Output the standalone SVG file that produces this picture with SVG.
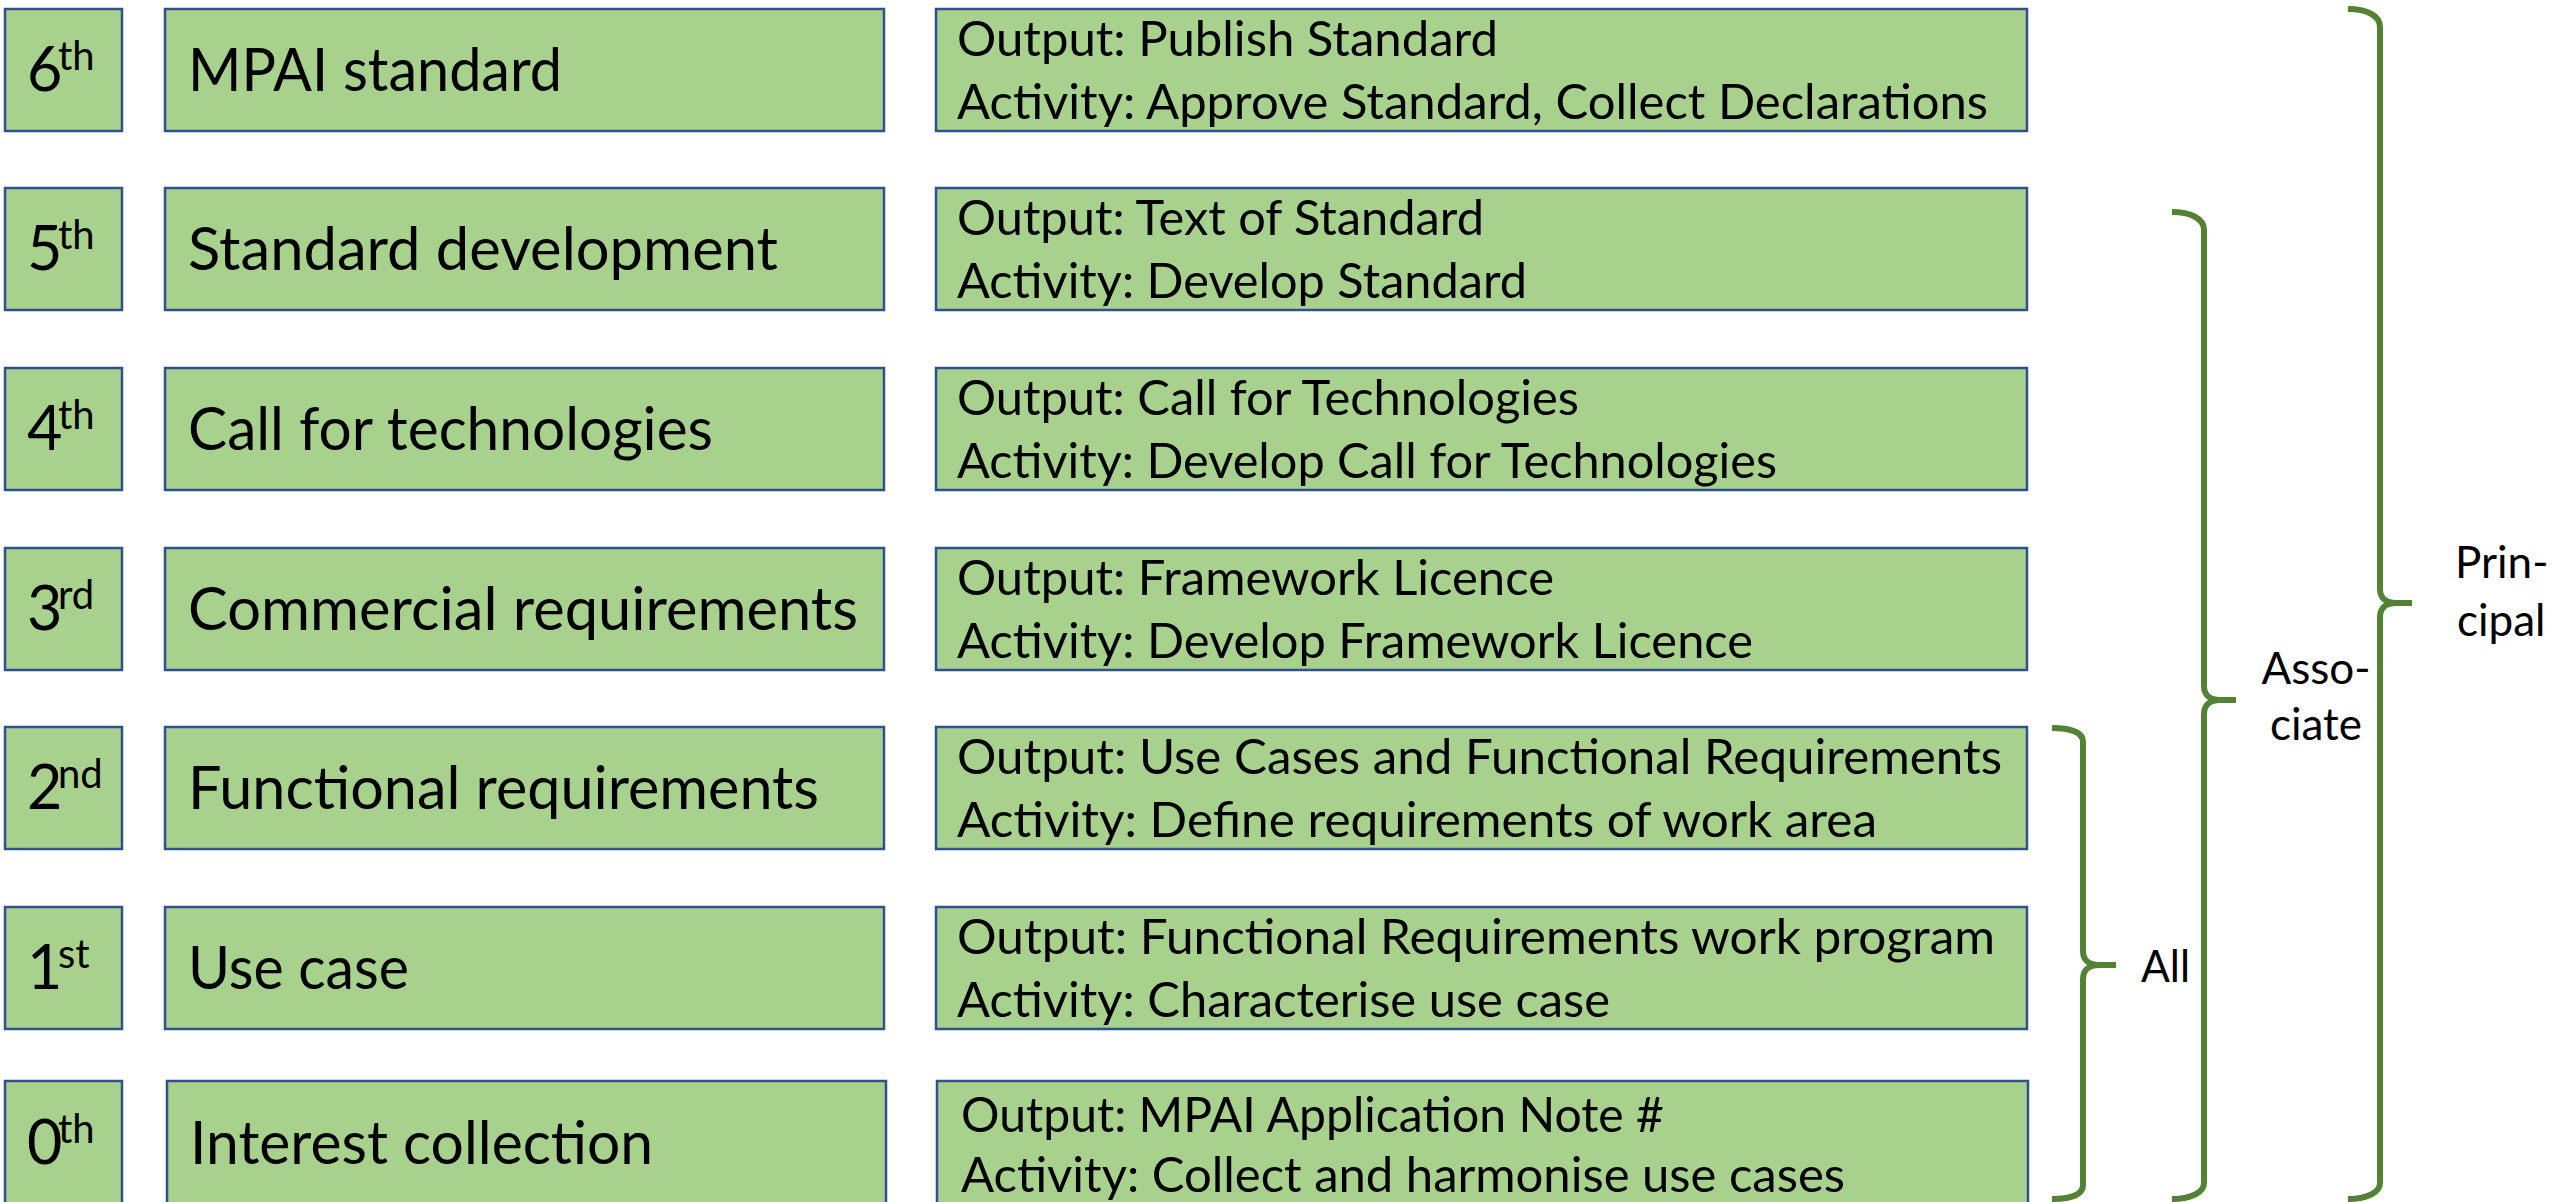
<svg xmlns="http://www.w3.org/2000/svg" width="2552" height="1202" viewBox="0 0 2552 1202">
<style>
.bx{fill:#A9D18E;stroke:#2F528F;stroke-width:2.5}
.t{font-family:Lato,"Open Sans","Liberation Sans",sans-serif;fill:#000}
.num{font-size:61px}
.sup{font-size:40px}
.main{font-size:60px}
.out{font-size:49px}
.lbl{font-size:44px}
.br{fill:none;stroke:#548235;stroke-width:6;stroke-linecap:butt}
</style>
<rect width="2552" height="1202" fill="#fff"/>
<g id="row6">
<rect class="bx" x="5" y="9" width="117" height="122"/>
<text class="t num" x="27" y="91">6</text><text class="t sup" x="58" y="70">th</text>
<rect class="bx" x="165" y="9" width="719" height="122"/>
<text class="t main" x="188" y="91" textLength="374" lengthAdjust="spacingAndGlyphs">MPAI standard</text>
<rect class="bx" x="936" y="9" width="1091" height="122"/>
<text class="t out" x="957" y="56" textLength="541" lengthAdjust="spacingAndGlyphs">Output: Publish Standard</text>
<text class="t out" x="957" y="119" textLength="1031" lengthAdjust="spacingAndGlyphs">Activity: Approve Standard, Collect Declarations</text>
</g>
<g id="row5">
<rect class="bx" x="5" y="188" width="117" height="122"/>
<text class="t num" x="27" y="270">5</text><text class="t sup" x="58" y="249">th</text>
<rect class="bx" x="165" y="188" width="719" height="122"/>
<text class="t main" x="188" y="270" textLength="590" lengthAdjust="spacingAndGlyphs">Standard development</text>
<rect class="bx" x="936" y="188" width="1091" height="122"/>
<text class="t out" x="957" y="235" textLength="527" lengthAdjust="spacingAndGlyphs">Output: Text of Standard</text>
<text class="t out" x="957" y="298" textLength="570" lengthAdjust="spacingAndGlyphs">Activity: Develop Standard</text>
</g>
<g id="row4">
<rect class="bx" x="5" y="368" width="117" height="122"/>
<text class="t num" x="27" y="450">4</text><text class="t sup" x="58" y="429">th</text>
<rect class="bx" x="165" y="368" width="719" height="122"/>
<text class="t main" x="188" y="450" textLength="525" lengthAdjust="spacingAndGlyphs">Call for technologies</text>
<rect class="bx" x="936" y="368" width="1091" height="122"/>
<text class="t out" x="957" y="415" textLength="622" lengthAdjust="spacingAndGlyphs">Output: Call for Technologies</text>
<text class="t out" x="957" y="478" textLength="820" lengthAdjust="spacingAndGlyphs">Activity: Develop Call for Technologies</text>
</g>
<g id="row3">
<rect class="bx" x="5" y="548" width="117" height="122"/>
<text class="t num" x="27" y="630">3</text><text class="t sup" x="58" y="609">rd</text>
<rect class="bx" x="165" y="548" width="719" height="122"/>
<text class="t main" x="188" y="630" textLength="670" lengthAdjust="spacingAndGlyphs">Commercial requirements</text>
<rect class="bx" x="936" y="548" width="1091" height="122"/>
<text class="t out" x="957" y="595" textLength="597" lengthAdjust="spacingAndGlyphs">Output: Framework Licence</text>
<text class="t out" x="957" y="658" textLength="796" lengthAdjust="spacingAndGlyphs">Activity: Develop Framework Licence</text>
</g>
<g id="row2">
<rect class="bx" x="5" y="727" width="117" height="122"/>
<text class="t num" x="27" y="809">2</text><text class="t sup" x="58" y="788">nd</text>
<rect class="bx" x="165" y="727" width="719" height="122"/>
<text class="t main" x="188" y="809" textLength="631" lengthAdjust="spacingAndGlyphs">Functional requirements</text>
<rect class="bx" x="936" y="727" width="1091" height="122"/>
<text class="t out" x="957" y="774" textLength="1045" lengthAdjust="spacingAndGlyphs">Output: Use Cases and Functional Requirements</text>
<text class="t out" x="957" y="837" textLength="920" lengthAdjust="spacingAndGlyphs">Activity: Define requirements of work area</text>
</g>
<g id="row1">
<rect class="bx" x="5" y="907" width="117" height="122"/>
<text class="t num" x="27" y="989">1</text><text class="t sup" x="58" y="968">st</text>
<rect class="bx" x="165" y="907" width="719" height="122"/>
<text class="t main" x="188" y="989" textLength="221" lengthAdjust="spacingAndGlyphs">Use case</text>
<rect class="bx" x="936" y="907" width="1091" height="122"/>
<text class="t out" x="957" y="954" textLength="1038" lengthAdjust="spacingAndGlyphs">Output: Functional Requirements work program</text>
<text class="t out" x="957" y="1017" textLength="653" lengthAdjust="spacingAndGlyphs">Activity: Characterise use case</text>
</g>
<g id="row0">
<rect class="bx" x="5" y="1081" width="117" height="124"/>
<text class="t num" x="27" y="1164">0</text><text class="t sup" x="58" y="1143">th</text>
<rect class="bx" x="167" y="1081" width="719" height="124"/>
<text class="t main" x="190" y="1164" textLength="463" lengthAdjust="spacingAndGlyphs">Interest collection</text>
<rect class="bx" x="937" y="1081" width="1091" height="124"/>
<text class="t out" x="961" y="1132" textLength="703" lengthAdjust="spacingAndGlyphs">Output: MPAI Application Note #</text>
<text class="t out" x="961" y="1192" textLength="884" lengthAdjust="spacingAndGlyphs">Activity: Collect and harmonise use cases</text>
</g>
<g id="connectors">
<path class="br" d="M2052 728 C2069.6 728 2083 732 2083 742 L2083 951 C2083 959 2088 965 2099 965 L2116 965 M2116 965 L2099 965 C2088 965 2083 971 2083 979 L2083 1185 C2083 1195 2069.6 1199 2052 1199"/>
<path class="br" d="M2172 212 C2189.6 212 2204 218 2204 230 L2204 686 C2204 694 2209 700 2220 700 L2236 700 M2236 700 L2220 700 C2209 700 2204 706 2204 714 L2204 1183 C2204 1193 2189.6 1199 2172 1199"/>
<path class="br" d="M2348 9 C2365.6 9 2380 15 2380 27 L2380 589 C2380 597 2385 603 2396 603 L2412 603 M2412 603 L2396 603 C2385 603 2380 609 2380 617 L2380 1183 C2380 1193 2365.6 1199 2348 1199"/>
</g>
<g id="labels">
<text class="t lbl" x="2141" y="982" textLength="49" lengthAdjust="spacingAndGlyphs">All</text>
<text class="t lbl" x="2316" y="684" text-anchor="middle">Asso-</text>
<text class="t lbl" x="2316" y="740" text-anchor="middle">ciate</text>
<text class="t lbl" x="2455" y="578">Prin-</text>
<text class="t lbl" x="2457" y="636">cipal</text>
</g>
</svg>
